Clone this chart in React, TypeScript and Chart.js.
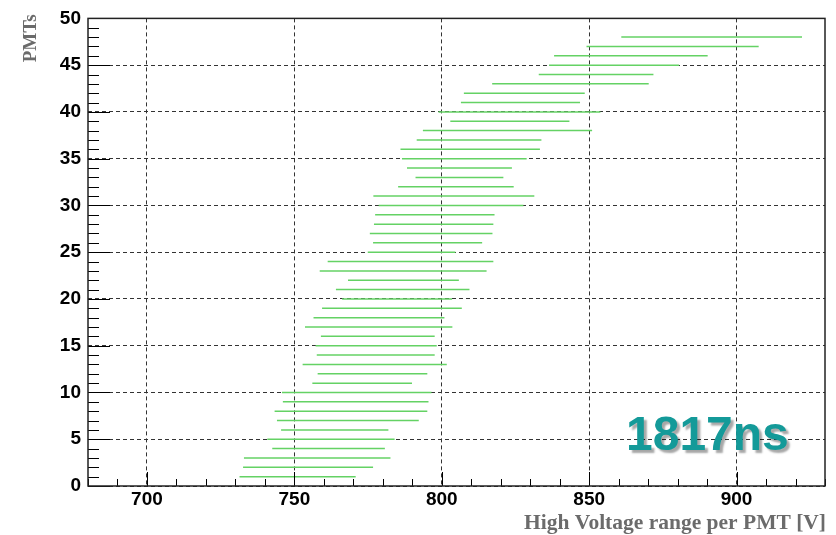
import React, { useEffect, useRef } from "react";
import { Chart, registerables } from "chart.js";

Chart.register(...registerables);

// ---- data ----
const pmtIds = [
  1, 2, 3, 4, 5, 6, 7, 8, 9, 10, 11, 12, 13, 14, 15, 16, 17, 18, 19, 20, 21, 22, 23, 24,
  25, 26, 27, 28, 29, 30, 31, 32, 33, 34, 35, 36, 37, 38, 39, 40, 41, 42, 43, 44, 45, 46, 47, 48,
];
const hvLow = [
  731.4, 732.6, 732.9, 742.5, 740.8, 745.5, 744.1, 743.3, 746.1, 745.8, 756.1, 757.9,
  752.8, 757.6, 757.2, 759.0, 753.6, 756.5, 759.4, 766.2, 764.1, 768.2, 758.6, 761.3,
  774.9, 776.7, 775.6, 777.0, 777.4, 778.6, 776.8, 785.2, 791.1, 788.2, 786.5, 786.0,
  791.5, 793.6, 802.9, 798.9, 806.5, 807.5, 817.1, 832.9, 836.4, 838.1, 849.1, 860.9,
];
const hvHigh = [
  770.8, 776.7, 782.6, 780.7, 784.0, 781.9, 792.2, 795.1, 795.5, 796.5, 789.9, 795.1,
  801.7, 797.6, 798.3, 797.6, 803.6, 800.9, 806.8, 803.5, 809.4, 805.8, 815.2, 817.5,
  804.6, 813.7, 817.2, 817.5, 817.9, 827.7, 831.4, 824.4, 820.9, 823.8, 828.8, 833.3,
  833.8, 851.0, 843.3, 853.8, 846.9, 848.5, 870.2, 871.8, 880.5, 890.2, 907.5, 922.2,
];
const xTickValues = [700, 750, 800, 850, 900];
const yTickValues = [0, 5, 10, 15, 20, 25, 30, 35, 40, 45, 50];
const xMin = 680;
const xMax = 930;
const yMin = 0;
const yMax = 50;
const xMinorStep = 10;
const yMinorStep = 1;
const xTitle = "High Voltage range per PMT [V]";
const yTitle = "PMTs";
const labelText = "1817ns";

const W = 836;
const H = 535;

const decorPlugin = {
  id: "rootDecor",
  afterDraw(chart: any) {
    const { ctx, chartArea, scales } = chart;
    const xs = scales.x;
    const ys = scales.y;
    const { left, right, top, bottom } = chartArea;
    ctx.save();
    // ticks (inward, ROOT style)
    ctx.strokeStyle = "#000";
    ctx.lineWidth = 1;
    ctx.beginPath();
    for (let v = xMin; v <= xMax + 1e-6; v += xMinorStep) {
      const px = Math.round(xs.getPixelForValue(v)) + 0.5;
      const major = xTickValues.includes(v);
      const len = major ? 14 : 7;
      ctx.moveTo(px, bottom);
      ctx.lineTo(px, bottom - len);
    }
    for (let v = yMin; v <= yMax + 1e-6; v += yMinorStep) {
      const py = Math.round(ys.getPixelForValue(v)) + 0.5;
      const major = yTickValues.includes(v);
      const len = major ? 22 : 11;
      ctx.moveTo(left, py);
      ctx.lineTo(left + len, py);
    }
    ctx.stroke();
    // frame
    ctx.strokeStyle = "#222";
    ctx.lineWidth = 1.5;
    ctx.strokeRect(left, top, right - left, bottom - top);
    // axis titles
    ctx.fillStyle = "#6b6b6b";
    ctx.font = "bold 21.5px 'Liberation Serif', 'Times New Roman', serif";
    ctx.textAlign = "right";
    ctx.textBaseline = "alphabetic";
    ctx.fillText(xTitle, right + 1, 529);
    ctx.save();
    ctx.translate(36, top - 4);
    ctx.rotate(-Math.PI / 2);
    ctx.font = "bold 19px 'Liberation Serif', 'Times New Roman', serif";
    ctx.textAlign = "right";
    ctx.fillText(yTitle, 0, 0);
    ctx.restore();
    // big label
    ctx.font = "bold 48px 'Liberation Sans', Arial, sans-serif";
    ctx.textAlign = "left";
    ctx.textBaseline = "alphabetic";
    ctx.shadowColor = "rgba(0,0,0,0.35)";
    ctx.shadowOffsetX = 3;
    ctx.shadowOffsetY = 3;
    ctx.shadowBlur = 2;
    ctx.fillStyle = "#149a99";
    ctx.fillText(labelText, 626, 450);
    ctx.restore();
  },
};

export default function App() {
  const ref = useRef<HTMLCanvasElement | null>(null);
  useEffect(() => {
    if (!ref.current) return;
    const datasets = pmtIds.map((id, i) => ({
      data: [
        { x: hvLow[i], y: id },
        { x: hvHigh[i], y: id },
      ],
      showLine: true,
      borderColor: "rgb(100,210,100)",
      borderWidth: 1.5,
      pointRadius: 0,
      fill: false,
    }));
    const tickFont = { family: "'Liberation Sans', Arial, sans-serif", size: 19, weight: "bold" as const };
    const chart = new Chart(ref.current, {
      type: "scatter",
      data: { datasets },
      options: {
        animation: false,
        responsive: false,
        devicePixelRatio: 1,
        layout: { padding: { left: 0, right: 11, top: 18, bottom: 0 } },
        plugins: { legend: { display: false }, tooltip: { enabled: false } },
        scales: {
          x: {
            type: "linear",
            min: xMin,
            max: xMax,
            afterBuildTicks: (s: any) => {
              s.ticks = xTickValues.map((v) => ({ value: v }));
            },
            afterFit: (s: any) => {
              s.height = 49;
            },
            ticks: { font: tickFont, color: "#000", padding: 2, maxRotation: 0, autoSkip: false },
            grid: { color: "#333", lineWidth: 1, drawTicks: false },
            border: { display: false, dash: [4, 3] },
          },
          y: {
            type: "linear",
            min: yMin,
            max: yMax,
            afterBuildTicks: (s: any) => {
              s.ticks = yTickValues.map((v) => ({ value: v }));
            },
            afterFit: (s: any) => {
              s.width = 88;
            },
            ticks: { font: tickFont, color: "#000", padding: 7, autoSkip: false },
            grid: { color: "#333", lineWidth: 1, drawTicks: false },
            border: { display: false, dash: [4, 3] },
          },
        },
      },
      plugins: [decorPlugin],
    });
    return () => chart.destroy();
  }, []);
  return (
    <div style={{ position: "absolute", left: 0, top: 0, width: W, height: H, background: "#fff" }}>
      <canvas ref={ref} width={W} height={H} style={{ width: W, height: H, display: "block" }} />
    </div>
  );
}
